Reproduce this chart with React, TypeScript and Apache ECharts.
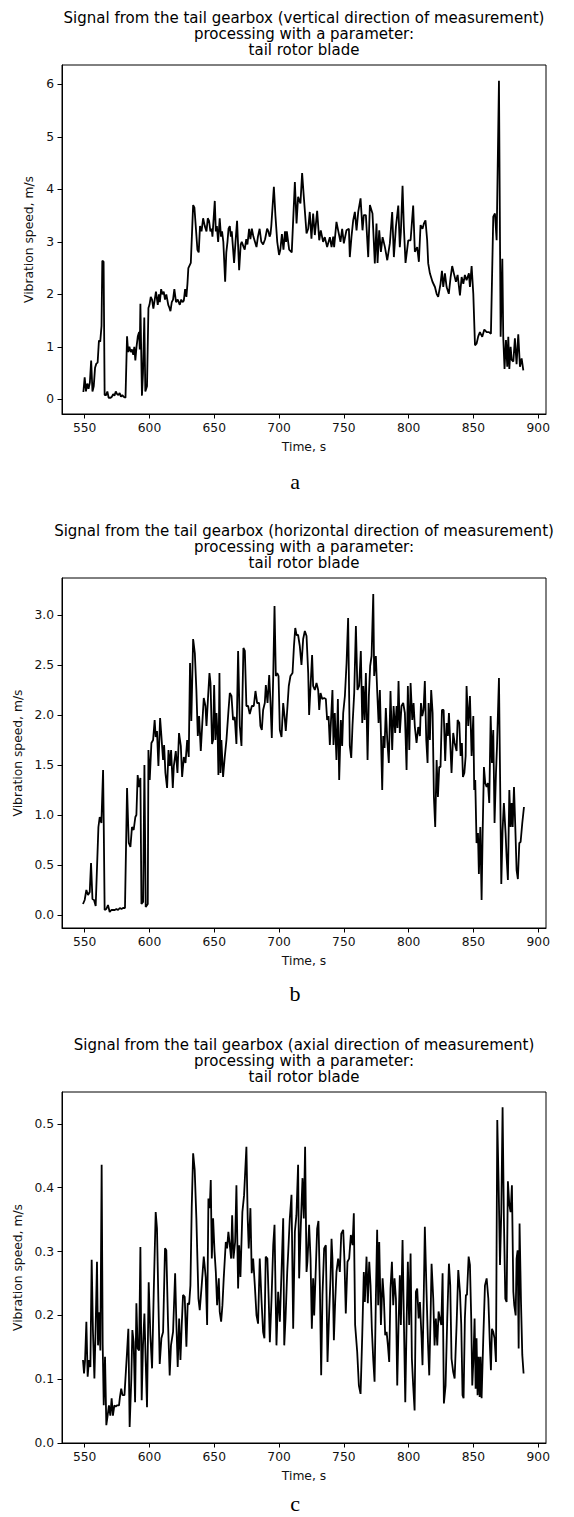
import React, { useEffect, useRef } from "react";
import * as echarts from "echarts";

// ---- DATA (time, s ; vibration speed, m/s) ----
const verticalSignal: [number, number][] = [
  [549,0.14],[550,0.42],[551,0.15],[552,0.30],[553,0.20],[554,0.32],[555,0.74],[556,0.15],[557,0.25],[558,0.60],[559,0.68],[560,0.70],[561,1.12],[562,1.10],[563,1.40],[563.6,2.64],[564.6,2.62],[565.4,0.08],[566.5,0.08],[567.5,0.15],[568.5,0.03],[570,0.03],[571,0.05],[572,0.10],[573,0.07],[574,0.15],[575,0.10],[576,0.08],[577,0.12],[578,0.05],[579,0.08],[580,0.05],[581.5,0.03],[582.7,1.20],[583.5,0.90],[584.5,1.00],[585.5,0.90],[586.5,0.95],[587.5,0.85],[588.3,1.00],[589.1,0.74],[590,1.00],[591,1.20],[592,1.28],[592.5,0.95],[593,1.82],[594.2,0.07],[595,0.50],[596,1.56],[596.8,0.15],[598.1,0.25],[599.2,1.74],[600,1.80],[601,1.95],[602,1.90],[603,1.73],[605,2.05],[606.4,1.80],[607.3,2.00],[608,1.85],[609,2.10],[610,2.00],[611,2.05],[612,1.90],[613,2.00],[614.5,1.80],[615.3,1.75],[616.2,1.68],[617.2,1.85],[618.2,1.90],[619.2,2.10],[620.5,1.85],[621.8,1.90],[623.4,1.80],[624.5,1.90],[625.5,1.85],[626.5,1.88],[627.5,2.10],[628.5,1.95],[629.3,2.20],[630,2.50],[631.9,2.60],[633.7,3.70],[634.7,3.65],[636,3.20],[637,2.85],[638,2.80],[639,3.30],[640.2,3.20],[641.4,3.45],[642.7,3.30],[644,3.20],[645,3.45],[646,3.40],[647,3.20],[648,3.25],[648.6,3.10],[650.4,3.78],[651.2,3.20],[652,3.30],[653,3.00],[654.2,3.45],[655.2,3.10],[656,3.20],[657,3.00],[658.4,2.24],[659.3,2.80],[660.2,3.00],[661,3.25],[662,3.30],[662.8,3.10],[663.5,3.20],[665.3,2.60],[666.4,3.00],[667.6,3.40],[669.2,2.46],[670.4,2.95],[671.2,3.00],[672.7,2.90],[673.5,2.85],[674.7,3.05],[675.6,2.95],[676.9,3.25],[677.9,3.05],[679,3.25],[680.2,3.10],[681.4,3.00],[682.6,2.90],[683.7,3.10],[685,3.25],[686.3,3.00],[687.7,2.95],[689.2,3.05],[690.8,3.25],[691.8,3.20],[692.7,3.10],[693.4,3.15],[694,3.30],[696,4.05],[697.2,3.50],[698.6,3.00],[700,2.75],[701,2.85],[702.2,3.15],[703.4,2.85],[704.6,3.20],[705.4,3.00],[706,3.20],[707.8,2.85],[709.8,2.80],[712.2,4.14],[713.5,3.35],[714.7,3.86],[716.5,3.73],[717.8,4.31],[719.1,3.86],[721.2,3.16],[722.5,3.25],[723.7,3.57],[725,3.06],[726.3,3.54],[727.6,3.13],[729.4,3.59],[731,3.03],[732.2,3.22],[734,3.00],[735.3,3.09],[737.1,2.90],[739.2,3.09],[740.5,2.90],[741.8,3.10],[742.5,2.90],[744.3,3.38],[745.6,3.22],[747.4,3.00],[748.7,3.25],[750,2.97],[752,3.22],[753.9,3.25],[754.6,2.71],[755.9,3.10],[757.2,3.41],[758.5,3.57],[759.8,3.22],[761.1,3.57],[762.9,3.83],[764.4,3.22],[765.4,3.51],[767,3.51],[768.8,2.71],[770.1,3.70],[772.1,3.54],[773.9,2.59],[775.2,3.35],[776,2.60],[777.3,3.22],[778.6,2.81],[779.9,3.09],[781.7,2.90],[783.5,2.65],[785.5,2.97],[787.3,3.57],[788.6,2.71],[790.2,3.29],[792,3.69],[793.2,2.90],[794,3.19],[795.3,4.07],[796.3,3.29],[797.6,2.60],[799.7,3.03],[801.5,3.03],[803.5,3.69],[804.8,2.81],[806.6,2.90],[807.9,2.62],[809.2,3.32],[810.7,3.25],[811.8,3.35],[813,3.41],[814.3,3.03],[815.1,2.59],[816.4,2.40],[818.4,2.24],[820.3,2.14],[821.6,2.01],[822.8,1.95],[824.6,2.20],[825.7,2.45],[826.7,2.14],[828,2.40],[829.3,2.14],[831,2.01],[832.4,2.33],[833.6,2.54],[834.9,2.40],[836.5,2.24],[837.8,2.37],[839.6,1.98],[840.9,2.33],[842.2,2.20],[843.4,2.37],[844.7,2.27],[846.5,2.40],[847.3,2.14],[848.6,2.54],[849.9,2.01],[851.2,1.03],[852.4,1.06],[853.7,1.20],[855,1.28],[856.8,1.19],[858.4,1.33],[860.2,1.28],[862,1.28],[863.5,1.25],[865.3,3.48],[866.6,3.54],[867.9,3.03],[869.7,6.07],[871,1.19],[872.3,2.68],[873,1.19],[874,0.58],[875.1,1.13],[876.1,0.62],[876.9,1.19],[877.7,0.58],[878.7,1.00],[879.5,0.75],[880.8,0.72],[882,1.16],[883.3,0.67],[884.6,1.24],[885.9,0.62],[887.2,0.78],[888.5,0.55]
];

const horizontalSignal: [number, number][] = [
  [548.7,0.11],[550,0.15],[551.3,0.25],[552.6,0.20],[553.9,0.23],[554.9,0.52],[556,0.16],[557.2,0.15],[558.5,0.09],[560.6,0.88],[561.6,0.98],[562.9,0.92],[564.2,1.45],[564.7,0.92],[565.4,0.05],[566.7,0.06],[568,0.10],[569.3,0.03],[570.6,0.05],[571.9,0.05],[573.2,0.05],[574.5,0.06],[575.8,0.05],[577.1,0.07],[578.4,0.06],[579.6,0.07],[581.1,0.07],[582.7,1.27],[584,0.72],[585.3,0.68],[586.5,0.88],[587.8,0.85],[589.1,0.98],[589.9,1.00],[590.9,1.40],[591.9,1.28],[593,1.37],[593.8,0.11],[595.1,0.13],[596.1,1.50],[597.1,0.08],[598.7,0.11],[599.2,1.65],[600.2,1.35],[601.5,1.72],[602.8,1.75],[604,1.95],[604.8,1.78],[605.8,1.84],[606.9,1.49],[608.2,1.97],[609.2,1.79],[610.5,1.55],[611.3,1.70],[612.3,1.42],[613.6,1.27],[614.7,1.65],[615.7,1.49],[616.7,1.65],[618,1.27],[618.8,1.49],[620.3,1.64],[621.6,1.42],[622.8,1.82],[624.2,1.69],[625.2,1.38],[626.5,1.58],[627.8,1.52],[629.1,1.75],[630.3,1.58],[631.3,2.52],[632.3,1.94],[633.7,2.76],[635,2.62],[636.2,2.25],[637.3,1.79],[638.3,1.99],[639.6,1.64],[640.6,1.88],[641.9,2.17],[643.2,2.09],[644,1.89],[645.3,2.20],[646.3,2.42],[647.1,2.32],[648.3,1.71],[649.1,1.75],[649.9,2.30],[650.9,1.75],[651.7,2.02],[652.7,1.75],[653.2,1.40],[654,2.42],[654.8,1.42],[655.5,1.75],[656.8,1.38],[658.1,1.58],[659.4,1.75],[661,2.05],[662,2.22],[663.3,2.19],[664.5,1.95],[665.8,1.98],[667.1,1.71],[668.4,2.64],[669.7,1.89],[671,1.69],[672.5,2.67],[673.6,2.64],[674.8,2.09],[676.1,2.09],[677.4,2.01],[679,2.09],[680.5,2.09],[681.8,2.24],[683.1,2.12],[684.6,2.12],[685.6,1.89],[686.7,1.85],[687.7,2.05],[689,2.12],[689.8,2.30],[691.1,2.12],[692.4,2.40],[693.4,2.12],[694.4,1.77],[695.5,2.39],[696.5,3.09],[697.5,2.39],[698.6,2.42],[699.6,2.39],[700.6,1.85],[701.9,1.78],[703.2,2.12],[704.5,1.95],[705.2,1.84],[706.3,2.05],[707.5,2.29],[708.8,2.39],[710.4,2.42],[711.5,2.69],[712.5,2.87],[713.5,2.80],[714.7,2.80],[716,2.69],[717.3,2.50],[718.6,2.76],[719.9,2.84],[721.2,2.79],[722.5,2.42],[723.2,2.00],[724.5,2.34],[725.5,2.60],[726.3,2.29],[727.6,2.25],[728.9,2.32],[730.2,2.25],[731,2.05],[732,2.22],[733.3,2.16],[734.8,2.17],[736.1,2.16],[737.1,1.95],[738.2,1.99],[739.2,1.70],[740,1.92],[741.2,2.25],[742,1.70],[743,2.02],[744.3,1.55],[745.4,2.16],[746.4,1.35],[747.7,1.95],[748.7,1.69],[749.5,2.02],[750.8,2.19],[752.1,2.52],[753.3,2.97],[754.6,1.69],[755.7,1.57],[756.7,1.90],[758,2.22],[759.3,2.89],[760.5,2.25],[761.8,2.29],[763.1,2.64],[764.2,1.92],[765,2.29],[766,1.95],[767,2.42],[768.3,1.55],[769.3,2.19],[770.3,2.49],[771.4,2.59],[772.7,3.21],[773.4,2.39],[774.7,2.59],[775.7,2.25],[776.8,1.92],[777.8,2.25],[778.6,1.82],[779.6,1.25],[780.4,1.79],[781.4,1.67],[782.4,2.07],[783.5,1.75],[784.7,1.52],[786,2.24],[787.3,1.65],[788.4,2.09],[789.6,1.82],[790.7,2.09],[791.4,1.87],[792.2,2.34],[793.2,1.82],[794.5,2.09],[795.8,2.12],[797.1,2.02],[798.4,1.45],[799.4,2.29],[800.5,1.65],[801.5,2.32],[802.8,1.95],[803.8,2.12],[804.8,1.88],[806.1,1.72],[807.4,1.88],[808.7,1.79],[809.5,2.12],[810.5,1.99],[811.5,2.05],[812.5,2.34],[813.6,1.75],[814.6,1.52],[815.4,2.12],[816.4,1.75],[817.4,2.25],[818.5,2.02],[819.5,1.18],[820.5,0.88],[821.6,1.55],[822.6,1.18],[823.6,1.48],[824.6,1.48],[825.7,2.05],[827,2.05],[828.2,1.54],[829.3,1.92],[830.3,1.79],[831.1,2.02],[832.1,1.72],[833.1,1.42],[834.4,1.82],[835.5,1.72],[837,1.64],[837.8,1.95],[839.1,1.92],[840.1,1.59],[841.1,1.72],[841.9,1.38],[843,1.42],[844,1.59],[844.7,2.29],[846,1.89],[847.3,2.19],[848.6,1.59],[849.9,1.99],[850.6,1.25],[851.4,1.35],[852.4,0.72],[853.5,0.82],[854.2,0.41],[855.3,0.88],[856.3,0.15],[857.1,0.82],[858.1,1.48],[859.1,1.32],[860.2,1.28],[861.2,1.32],[862.2,1.12],[863.3,1.99],[864.3,1.52],[865.3,1.85],[866.3,0.92],[867.4,1.42],[868.2,1.69],[869.7,2.37],[871,0.88],[871.5,0.31],[872.5,0.85],[873.5,1.12],[874.8,0.82],[875.6,0.58],[876.6,0.35],[877.7,1.25],[878.7,0.88],[879.5,1.12],[880.3,0.88],[881.3,1.28],[882.3,0.88],[883.3,0.45],[884.3,0.36],[885.4,0.72],[886.4,0.73],[887.7,0.92],[889,1.08]
];

const axialSignal: [number, number][] = [
  [548.7,0.130],[549.5,0.109],[550.3,0.130],[551.3,0.190],[552.3,0.104],[553.3,0.130],[554.4,0.119],[555.4,0.287],[556.4,0.174],[557.5,0.101],[558.5,0.185],[559.5,0.284],[560.3,0.153],[561.1,0.205],[562.1,0.145],[563.1,0.436],[563.9,0.154],[564.7,0.059],[565.7,0.135],[566.7,0.028],[567.7,0.043],[568.7,0.059],[569.8,0.043],[570.8,0.070],[571.8,0.043],[572.9,0.059],[573.9,0.057],[574.9,0.059],[576.5,0.059],[577.2,0.072],[578.2,0.085],[579.2,0.075],[580.7,0.075],[582.7,0.143],[583.7,0.179],[584.7,0.025],[586,0.101],[586.8,0.177],[587.8,0.158],[588.9,0.064],[589.9,0.219],[590.9,0.148],[592,0.145],[593,0.307],[594,0.067],[595,0.153],[596.1,0.203],[597.1,0.127],[598.1,0.056],[599.4,0.252],[600.7,0.169],[602,0.117],[603.3,0.237],[604.8,0.362],[605.8,0.336],[606.9,0.221],[607.9,0.124],[609.2,0.164],[610.5,0.174],[612,0.305],[613,0.302],[614.3,0.190],[615.6,0.106],[616.6,0.153],[618.2,0.174],[619.8,0.266],[620.8,0.185],[621.8,0.119],[622.9,0.195],[623.9,0.130],[624.9,0.185],[625.9,0.232],[627.2,0.229],[628.5,0.151],[629.5,0.219],[630.6,0.217],[631.6,0.247],[632.6,0.368],[633.7,0.454],[634.9,0.428],[636.2,0.352],[637.8,0.226],[638.8,0.208],[640.3,0.247],[641.9,0.292],[643.4,0.260],[644.5,0.185],[645.5,0.383],[646.5,0.368],[647.3,0.412],[648.1,0.289],[649.1,0.352],[650.2,0.300],[651.2,0.268],[652.2,0.216],[653.5,0.258],[654.2,0.206],[655.3,0.190],[656.3,0.216],[657.3,0.258],[658.9,0.315],[659.9,0.305],[660.9,0.331],[662,0.310],[663,0.289],[663.8,0.357],[664.8,0.289],[666.1,0.315],[667.1,0.404],[668.4,0.242],[669.2,0.310],[670.2,0.260],[671.7,0.362],[673,0.388],[674.8,0.464],[675.8,0.352],[676.6,0.305],[677.9,0.368],[678.9,0.266],[680,0.289],[681.3,0.247],[682.6,0.200],[683.8,0.187],[685.1,0.289],[686.4,0.226],[687.7,0.174],[688.7,0.164],[689.7,0.292],[691,0.289],[692,0.226],[692.9,0.158],[694.2,0.226],[695.5,0.310],[696.5,0.342],[697.3,0.237],[698,0.153],[699.3,0.237],[700.6,0.190],[701.9,0.268],[703.2,0.352],[704,0.153],[705,0.195],[706.3,0.268],[707.1,0.300],[708.3,0.352],[709.6,0.389],[710.9,0.179],[712.2,0.331],[713.4,0.357],[714.7,0.436],[715.5,0.258],[716.8,0.342],[718.1,0.415],[719.1,0.352],[720.1,0.464],[721.2,0.268],[721.9,0.284],[723.2,0.342],[724.3,0.289],[725.3,0.179],[726.3,0.258],[727.1,0.200],[728.1,0.258],[729.4,0.336],[730.4,0.348],[731.5,0.247],[732.5,0.106],[733.5,0.232],[734.8,0.305],[736.1,0.310],[737.4,0.127],[738.7,0.206],[739.7,0.258],[740.5,0.320],[741.2,0.289],[742.3,0.161],[743.3,0.221],[744.3,0.268],[745.6,0.289],[746.9,0.268],[748,0.328],[749.5,0.334],[750.5,0.284],[751.5,0.203],[752.8,0.284],[754.1,0.289],[755.4,0.326],[756.7,0.310],[757.7,0.360],[758.7,0.185],[760.3,0.143],[761.6,0.090],[762.9,0.077],[764.2,0.169],[765.4,0.268],[766.2,0.221],[767.5,0.292],[768.5,0.219],[769.6,0.284],[770.6,0.247],[771.6,0.179],[772.7,0.130],[773.7,0.096],[774.7,0.226],[775.7,0.334],[776.5,0.216],[777.3,0.315],[778.6,0.185],[779.9,0.258],[780.9,0.226],[781.9,0.169],[783,0.174],[784,0.153],[785,0.127],[786,0.242],[787.1,0.284],[788.1,0.216],[789.1,0.258],[790.2,0.226],[791.2,0.090],[792.2,0.185],[793.2,0.263],[794,0.185],[795.3,0.318],[796.3,0.195],[797.4,0.064],[798.4,0.185],[799.4,0.284],[800.4,0.185],[801.5,0.297],[802.5,0.132],[803.5,0.090],[804.6,0.051],[805.6,0.237],[806.6,0.242],[807.7,0.195],[808.7,0.221],[810,0.164],[810.7,0.122],[811.8,0.247],[812.5,0.339],[813.8,0.237],[814.9,0.158],[815.9,0.106],[816.9,0.195],[817.7,0.281],[819,0.226],[820,0.153],[821,0.195],[822.1,0.153],[823.1,0.206],[824.1,0.195],[825.2,0.185],[826.2,0.266],[827.2,0.062],[828.5,0.090],[829.8,0.195],[831.1,0.281],[832.1,0.247],[833.1,0.132],[834.4,0.111],[835.5,0.101],[837,0.185],[838.3,0.271],[839.6,0.237],[840.6,0.185],[841.6,0.075],[842.4,0.070],[843.4,0.195],[844.2,0.232],[845,0.232],[846.3,0.292],[847.3,0.279],[848.3,0.195],[849.1,0.090],[849.9,0.127],[850.9,0.195],[851.7,0.085],[852.4,0.164],[853.2,0.075],[854,0.135],[854.8,0.072],[855.5,0.135],[856.3,0.070],[857.6,0.164],[858.9,0.247],[860.2,0.258],[861.5,0.226],[862.7,0.153],[863.5,0.114],[864.3,0.179],[865.3,0.174],[866.3,0.164],[867.4,0.127],[868.4,0.506],[869.4,0.410],[870.5,0.279],[871.5,0.362],[872.5,0.526],[873.5,0.352],[874.6,0.226],[875.6,0.221],[876.6,0.410],[877.7,0.373],[878.7,0.362],[879.7,0.404],[880.8,0.237],[881.5,0.216],[882.6,0.200],[883.3,0.289],[884.1,0.302],[884.9,0.148],[885.6,0.344],[886.7,0.221],[887.7,0.138],[888.7,0.109]
];

const timeTicks = [550, 600, 650, 700, 750, 800, 850, 900];
const ticksA = [0, 1, 2, 3, 4, 5, 6];
const ticksB = [0, 0.5, 1, 1.5, 2, 2.5, 3];
const ticksC = [0, 0.1, 0.2, 0.3, 0.4, 0.5];

const titlesLine1 = [
  "Signal from the tail gearbox (vertical direction of measurement)",
  "Signal from the tail gearbox (horizontal direction of measurement)",
  "Signal from the tail gearbox (axial direction of measurement)",
];
const titleLine2 = "processing with a parameter:";
const titleLine3 = "tail rotor blade";
const panelLetters = ["a", "b", "c"];
const xName = "Time, s";
const yName = "Vibration speed, m/s";

const FONT = "DejaVu Sans";

export default function App() {
  const ref = useRef<HTMLDivElement>(null);

  useEffect(() => {
    if (!ref.current) return;
    const chart = echarts.init(ref.current, undefined, { renderer: "svg" });

    const grids = [
      { left: 62, top: 65, width: 484, height: 349 },
      { left: 62, top: 578, width: 484, height: 350 },
      { left: 62, top: 1092, width: 484, height: 351 },
    ];
    const yRanges = [
      { min: -0.28, max: 6.37, ticks: ticksA, dec: 0, gap: 26 },
      { min: -0.13, max: 3.37, ticks: ticksB, dec: 1, gap: 37 },
      { min: 0, max: 0.55, ticks: ticksC, dec: 1, gap: 37 },
    ];
    const letterY = [481, 993, 1503];
    const data = [verticalSignal, horizontalSignal, axialSignal];

    const labelStyle = { color: "#111", fontSize: 12.3, fontFamily: FONT };

    const xAxis = grids.map((_, i) => ({
      type: "value",
      gridIndex: i,
      min: 532.5,
      max: 906,
      name: xName,
      nameLocation: "middle",
      nameGap: 27,
      nameTextStyle: { ...labelStyle },
      axisLine: { show: true, onZero: false, lineStyle: { color: "#000", width: 1 } },
      axisTick: { show: true, length: 4.5, customValues: timeTicks, lineStyle: { color: "#000", width: 1 } },
      axisLabel: { ...labelStyle, margin: 8, customValues: timeTicks, formatter: (v: number) => String(v) },
      splitLine: { show: false },
    }));

    const yAxis = grids.map((_, i) => ({
      type: "value",
      gridIndex: i,
      min: yRanges[i].min,
      max: yRanges[i].max,
      name: yName,
      nameLocation: "middle",
      nameGap: yRanges[i].gap,
      nameTextStyle: { ...labelStyle },
      axisLine: { show: true, onZero: false, lineStyle: { color: "#000", width: 1 } },
      axisTick: { show: true, length: 4.5, customValues: yRanges[i].ticks, lineStyle: { color: "#000", width: 1 } },
      axisLabel: {
        ...labelStyle,
        margin: 8,
        customValues: yRanges[i].ticks,
        formatter: (v: number) => v.toFixed(yRanges[i].dec),
      },
      splitLine: { show: false },
    }));

    const series = data.map((d, i) => ({
      type: "line",
      xAxisIndex: i,
      yAxisIndex: i,
      data: d,
      showSymbol: false,
      symbol: "none",
      lineStyle: { color: "#000", width: 1.8 },
      clip: true,
    }));

    const graphic: any[] = [];
    grids.forEach((g, i) => {
      const cx = g.left + g.width / 2;
      const lines = [titlesLine1[i], titleLine2, titleLine3];
      const offs = [-47, -31, -15];
      lines.forEach((t, k) => {
        graphic.push({
          type: "text",
          x: cx,
          y: g.top + offs[k],
          style: {
            text: t,
            fill: "#000",
            fontSize: 15,
            fontFamily: FONT,
            align: "center",
            verticalAlign: "middle",
          },
        });
      });
      graphic.push({
        type: "text",
        x: 295,
        y: letterY[i],
        style: {
          text: panelLetters[i],
          fill: "#000",
          fontSize: 22,
          fontFamily: "Liberation Serif, Times New Roman, serif",
          align: "center",
          verticalAlign: "middle",
        },
      });
    });

    chart.setOption({
      animation: false,
      backgroundColor: "#fff",
      grid: grids.map((g) => ({ ...g, show: true, borderColor: "#000", borderWidth: 1, backgroundColor: "transparent" })),
      xAxis,
      yAxis,
      series,
      graphic,
    } as any);

    return () => chart.dispose();
  }, []);

  return (
    <div
      ref={ref}
      style={{ position: "absolute", left: 0, top: 0, width: 574, height: 1517, background: "#fff" }}
    />
  );
}
